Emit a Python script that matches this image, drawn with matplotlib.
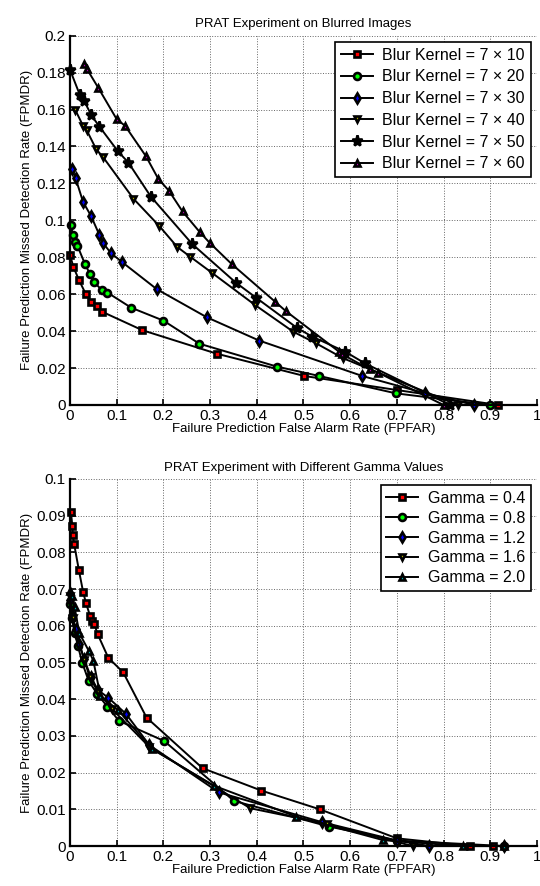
import numpy as np
import matplotlib
matplotlib.use('Agg')
import matplotlib.pyplot as plt

plt.rcParams['font.family'] = ['Liberation Sans', 'DejaVu Sans']

# ---- data: top panel (blur kernels) ----
k10_x = [0, 0.007, 0.019, 0.034, 0.046, 0.057, 0.068, 0.155, 0.314, 0.502, 0.70, 0.917]
k10_y = [0.0813, 0.075, 0.0678, 0.060, 0.056, 0.0537, 0.0506, 0.0405, 0.0278, 0.0157, 0.0081, 0]
k20_x = [0.002, 0.006, 0.011, 0.016, 0.032, 0.043, 0.051, 0.068, 0.080, 0.131, 0.200, 0.277, 0.443, 0.534, 0.698, 0.90]
k20_y = [0.0976, 0.0918, 0.0885, 0.0862, 0.0764, 0.0708, 0.0667, 0.0623, 0.0609, 0.0527, 0.0457, 0.0332, 0.0208, 0.0157, 0.0063, 0]
k30_x = [0.004, 0.012, 0.028, 0.045, 0.063, 0.071, 0.088, 0.112, 0.186, 0.293, 0.405, 0.626, 0.76, 0.866]
k30_y = [0.128, 0.1228, 0.110, 0.1024, 0.0921, 0.0876, 0.0822, 0.0773, 0.0627, 0.0475, 0.0349, 0.0157, 0.0064, 0]
k40_x = [0.011, 0.028, 0.036, 0.056, 0.071, 0.136, 0.191, 0.230, 0.257, 0.305, 0.396, 0.478, 0.527, 0.585, 0.83]
k40_y = [0.160, 0.1512, 0.1487, 0.1386, 0.1342, 0.1117, 0.097, 0.0855, 0.0804, 0.0714, 0.0542, 0.0397, 0.0334, 0.0253, 0]
k50_x = [0, 0.021, 0.031, 0.046, 0.063, 0.103, 0.125, 0.173, 0.262, 0.355, 0.398, 0.487, 0.519, 0.589, 0.632, 0.814]
k50_y = [0.1816, 0.168, 0.1644, 0.1568, 0.1508, 0.1373, 0.1313, 0.1129, 0.0871, 0.0663, 0.0582, 0.0416, 0.037, 0.0289, 0.0225, 0]
k60_x = [0.031, 0.036, 0.061, 0.100, 0.118, 0.163, 0.189, 0.212, 0.241, 0.278, 0.300, 0.346, 0.439, 0.462, 0.576, 0.582, 0.642, 0.66, 0.80]
k60_y = [0.1847, 0.1821, 0.1716, 0.1548, 0.1512, 0.1346, 0.1225, 0.116, 0.1048, 0.0936, 0.0876, 0.0764, 0.056, 0.0509, 0.0289, 0.0276, 0.0193, 0.0175, 0]

# ---- data: bottom panel (gamma) ----
g04_x = [0.002, 0.005, 0.006, 0.009, 0.019, 0.028, 0.034, 0.043, 0.048, 0.052, 0.059, 0.082, 0.114, 0.164, 0.284, 0.410, 0.535, 0.70, 0.857, 0.906]
g04_y = [0.0911, 0.0872, 0.0847, 0.0822, 0.0752, 0.0693, 0.0663, 0.0627, 0.0614, 0.0605, 0.0578, 0.0513, 0.0473, 0.035, 0.0212, 0.0151, 0.0100, 0.0021, 0, 0]
g08_x = [0.0, 0.004, 0.010, 0.017, 0.026, 0.040, 0.058, 0.080, 0.105, 0.202, 0.351, 0.555, 0.70, 0.93]
g08_y = [0.066, 0.062, 0.058, 0.0546, 0.050, 0.045, 0.0415, 0.038, 0.0341, 0.0286, 0.0123, 0.0053, 0.0015, 0]
g12_x = [0.0, 0.005, 0.012, 0.02, 0.03, 0.045, 0.06, 0.082, 0.12, 0.17, 0.319, 0.54, 0.70, 0.769, 0.93]
g12_y = [0.067, 0.063, 0.059, 0.055, 0.051, 0.046, 0.0425, 0.0404, 0.036, 0.0275, 0.0146, 0.0065, 0.0015, 0, 0]
g16_x = [0.0, 0.006, 0.015, 0.031, 0.042, 0.06, 0.091, 0.17, 0.386, 0.55, 0.734]
g16_y = [0.068, 0.062, 0.057, 0.0507, 0.046, 0.042, 0.0372, 0.027, 0.0103, 0.006, 0]
g20_x = [0.0, 0.005, 0.010, 0.02, 0.041, 0.05, 0.065, 0.103, 0.176, 0.309, 0.485, 0.671, 0.842, 0.929]
g20_y = [0.0695, 0.068, 0.065, 0.058, 0.053, 0.0505, 0.041, 0.037, 0.0264, 0.0164, 0.008, 0.0016, 0, 0]

blur_labels = ['Blur Kernel = 7 \u00d7 10', 'Blur Kernel = 7 \u00d7 20', 'Blur Kernel = 7 \u00d7 30',
               'Blur Kernel = 7 \u00d7 40', 'Blur Kernel = 7 \u00d7 50', 'Blur Kernel = 7 \u00d7 60']
gamma_labels = ['Gamma = 0.4', 'Gamma = 0.8', 'Gamma = 1.2', 'Gamma = 1.6', 'Gamma = 2.0']

xticks = np.arange(0, 1.01, 0.1)
xticklabels = ['0', '0.1', '0.2', '0.3', '0.4', '0.5', '0.6', '0.7', '0.8', '0.9', '1']
top_yticks = np.arange(0, 0.201, 0.02)
top_yticklabels = ['0', '0.02', '0.04', '0.06', '0.08', '0.1', '0.12', '0.14', '0.16', '0.18', '0.2']
bot_yticks = np.arange(0, 0.1001, 0.01)
bot_yticklabels = ['0', '0.01', '0.02', '0.03', '0.04', '0.05', '0.06', '0.07', '0.08', '0.09', '0.1']

top_series = [(k10_x, k10_y, 's', 'r'), (k20_x, k20_y, 'o', '#00ff00'), (k30_x, k30_y, 'd', 'b'),
              (k40_x, k40_y, 'v', 'y'), (k50_x, k50_y, '*', 'k'), (k60_x, k60_y, '^', 'm')]
bot_series = [(g04_x, g04_y, 's', 'r'), (g08_x, g08_y, 'o', '#00ff00'), (g12_x, g12_y, 'd', 'b'),
              (g16_x, g16_y, 'v', 'y'), (g20_x, g20_y, '^', 'c')]

fig = plt.figure(figsize=(5.4, 8.86), dpi=100)


def style_axes(ax, yticks, yticklabels, title):
    ax.set_xlim(0, 1)
    ax.set_ylim(yticks[0], yticks[-1])
    ax.set_xticks(xticks)
    ax.set_xticklabels(xticklabels, fontsize=11)
    ax.set_yticks(yticks)
    ax.set_yticklabels(yticklabels, fontsize=11)
    ax.tick_params(direction='in', length=4, width=1.2, pad=3)
    ax.grid(True, linestyle=':', color='0.4', linewidth=0.7)
    ax.set_axisbelow(True)
    for s in ['top', 'right']:
        ax.spines[s].set_visible(False)
    for s in ['left', 'bottom']:
        ax.spines[s].set_linewidth(1.6)
    ax.set_title(title, fontsize=9.5, pad=6)
    ax.set_xlabel('Failure Prediction False Alarm Rate (FPFAR)', fontsize=9.5, labelpad=0)
    ax.set_ylabel('Failure Prediction Missed Detection Rate (FPMDR)', fontsize=9.5, labelpad=2)


def draw(ax, series, labels, spacing):
    for (x, y, m, c), lab in zip(series, labels):
        ms = 8 if m == '*' else 5
        ax.plot(x, y, color='k', linewidth=1.4, marker=m, markersize=ms,
                markerfacecolor=c, markeredgecolor='k', markeredgewidth=1.9, label=lab)
    leg = ax.legend(loc='upper right', fontsize=11.5, fancybox=False, framealpha=1,
                    edgecolor='k', borderaxespad=0.4, handlelength=2.0, labelspacing=spacing,
                    borderpad=0.35, handletextpad=0.6)
    leg.get_frame().set_linewidth(1.2)


ax1 = fig.add_axes([0.1296, 0.5429, 0.8648, 0.4168])
draw(ax1, top_series, blur_labels, 0.42)
style_axes(ax1, top_yticks, top_yticklabels, 'PRAT Experiment on Blurred Images')

ax2 = fig.add_axes([0.1296, 0.0451, 0.8648, 0.4143])
draw(ax2, bot_series, gamma_labels, 0.3)
style_axes(ax2, bot_yticks, bot_yticklabels, 'PRAT Experiment with Different Gamma Values')

for ax in (ax1, ax2):
    for ln in ax.lines:
        ln.set_clip_on(False)

fig.savefig('out.png', dpi=100)
